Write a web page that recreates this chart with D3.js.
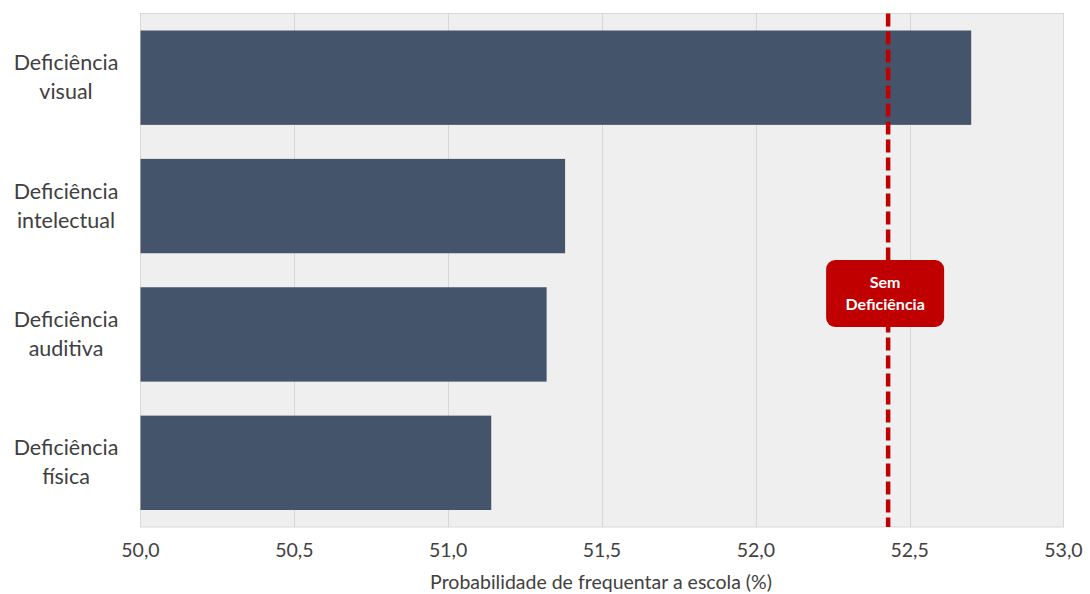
<!DOCTYPE html>
<html><head><meta charset="utf-8">
<script src="https://cdn.jsdelivr.net/npm/d3@7"></script>
<style>body{margin:0;background:#fff;}svg{display:block;}</style>
</head><body>
<svg id="c" width="1090" height="594"></svg>
<script>
const categories = [["Deficiência","visual"],["Deficiência","intelectual"],["Deficiência","auditiva"],["Deficiência","física"]];
const values = [52.70, 51.38, 51.32, 51.14];
const referenceValue = 52.43;
const referenceLabel = ["Sem","Deficiência"];
const xTicks = [50.0, 50.5, 51.0, 51.5, 52.0, 52.5, 53.0];
const axisTitle = "Probabilidade de frequentar a escola (%)";

const svg = d3.select("#c");
const L = 140.5, R = 1063.5, T = 13.5, B = 527;
const font = "Lato, 'Open Sans', sans-serif";
const x = d3.scaleLinear().domain([50, 53]).range([L, R]);
const y = d3.scaleBand().domain(d3.range(categories.length)).range([T, B]).paddingInner(0.265).paddingOuter(0.1325);

svg.append("rect").attr("x", L).attr("y", T).attr("width", R - L).attr("height", B - T)
  .attr("fill", "#efefef").attr("stroke", "#d9d9d9").attr("stroke-width", 1);

svg.append("g").selectAll("line").data(xTicks.slice(1, -1)).join("line")
  .attr("x1", d => Math.round(x(d)) + 0.5).attr("x2", d => Math.round(x(d)) + 0.5)
  .attr("y1", T).attr("y2", B).attr("stroke", "#bfbfbf").attr("stroke-width", 1).attr("stroke-dasharray", "1,1");

svg.append("g").selectAll("rect").data(values).join("rect")
  .attr("x", x(50)).attr("y", (d, i) => y(i)).attr("height", y.bandwidth())
  .attr("width", d => x(d) - x(50)).attr("fill", "#44546a");

// category labels
const lab = svg.append("g").selectAll("text").data(categories).join("text")
  .attr("x", 66).attr("text-anchor", "middle").attr("font-family", font)
  .attr("font-size", 21.5).attr("fill", "#404040");
lab.each(function(d, i) {
  const cy = y(i) + y.bandwidth() / 2;
  const t = d3.select(this);
  d.forEach((s, k) => t.append("tspan").attr("x", 66).attr("y", cy - 14.5 + k * 29 + 7).text(s));
});

// x axis tick labels
svg.append("g").selectAll("text").data(xTicks).join("text")
  .attr("x", d => x(d)).attr("y", 557).attr("text-anchor", "middle")
  .attr("font-family", font).attr("font-size", 19.5).attr("fill", "#404040")
  .text(d => d3.format(".1f")(d).replace(".", ","));

svg.append("text").attr("x", 601).attr("y", 589).attr("text-anchor", "middle")
  .attr("font-family", font).attr("font-size", 19.5).attr("fill", "#404040").text(axisTitle);

// reference line
svg.append("line").attr("x1", x(referenceValue)).attr("x2", x(referenceValue))
  .attr("y1", T).attr("y2", B).attr("stroke", "#c00000").attr("stroke-width", 4.5)
  .attr("stroke-dasharray", "13,5");

const bx = x(referenceValue) - 3, bw = 118, bh = 67, by = 260;
svg.append("rect").attr("x", bx - bw / 2).attr("y", by).attr("width", bw).attr("height", bh)
  .attr("rx", 9).attr("fill", "#c00000");
const lt = svg.append("text").attr("text-anchor", "middle").attr("font-family", font)
  .attr("font-size", 16).attr("font-weight", "bold").attr("fill", "#fff");
referenceLabel.forEach((s, k) => lt.append("tspan").attr("x", bx).attr("y", 288 + k * 22).text(s));
</script>
</body></html>
